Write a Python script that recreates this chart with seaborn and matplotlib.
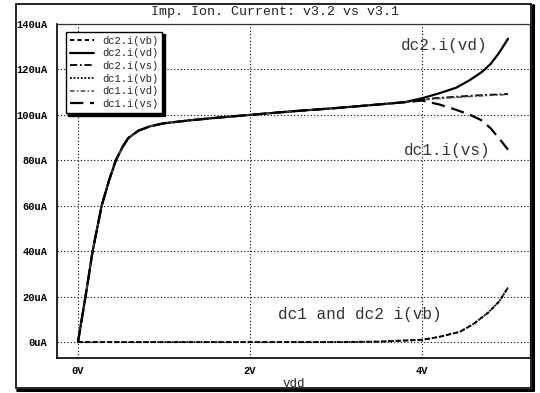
import numpy as np
import pandas as pd
import matplotlib
matplotlib.use("Agg")
import matplotlib.pyplot as plt
import seaborn as sns
from matplotlib.lines import Line2D
from matplotlib.patches import Rectangle

# ---------------- data (uA vs V) ----------------
vdd_main = [0, 0.1, 0.17, 0.275, 0.36, 0.44, 0.52, 0.585, 0.7, 0.84, 1.0, 1.3, 1.6,
            2.0, 2.5, 3.0, 3.5, 3.8, 4.0, 4.2, 4.4, 4.56, 4.7, 4.8, 4.9, 5.0]
dc2_vd = [0, 23, 40, 60, 71, 80, 86, 89.8, 93, 95, 96.3, 97.6, 98.7,
          100, 101.6, 103, 104.6, 105.6, 107.3, 109.5, 112, 115.4, 119, 122.5, 127.5, 133.5]
dc2_vs = [0, 23, 40, 60, 71, 80, 86, 89.8, 93, 95, 96.3, 97.6, 98.7,
          100, 101.6, 103, 104.6, 105.6, 106.8, 107.5, 108.0, 108.4, 108.7, 108.9, 109.0, 109.2]
dc1_vd = [0, 23, 40, 60, 71, 80, 86, 89.8, 93, 95, 96.3, 97.6, 98.7,
          100, 101.6, 103, 104.6, 105.6, 106.6, 107.2, 107.7, 108.1, 108.4, 108.6, 108.8, 109.0]
dc1_vs = [0, 23, 40, 60, 71, 80, 86, 89.8, 93, 95, 96.3, 97.6, 98.7,
          100, 101.6, 103, 104.6, 105.6, 106.3, 104.6, 102.2, 100, 97.5, 94, 89.5, 84.7]

vdd_b = [0, 1.0, 2.0, 3.0, 3.5, 3.74, 4.0, 4.2, 4.44, 4.6, 4.77, 4.9, 5.0]
dc2_vb = [0, 0, 0, 0, 0.2, 0.6, 1.0, 2.3, 4.5, 8.0, 13.0, 18.0, 24.0]
dc1_vb = [0, 0, 0, 0, 0.2, 0.6, 1.0, 2.3, 4.5, 8.0, 13.0, 18.0, 24.0]

series_names = ["dc2.i(vb)", "dc2.i(vd)", "dc2.i(vs)", "dc1.i(vb)", "dc1.i(vd)", "dc1.i(vs)"]
x_ticks = [0, 2, 4]
x_tick_labels = ["0V", "2V", "4V"]
y_ticks = [0, 20, 40, 60, 80, 100, 120, 140]
y_tick_labels = ["0uA", "20uA", "40uA", "60uA", "80uA", "100uA", "120uA", "140uA"]
title = "Imp. Ion. Current: v3.2 vs v3.1"

# ---------------- styling ----------------
sns.set_style("white")
plt.rcParams["font.family"] = ["Liberation Mono", "DejaVu Sans Mono"]

W, H = 540, 393
fig = plt.figure(figsize=(W / 100, H / 100), dpi=100)
L, R, T, B = 57, 530, 24, 358
ax = fig.add_axes([L / W, 1 - B / H, (R - L) / W, (B - T) / H])

data = {
    "dc2.i(vb)": (vdd_b, dc2_vb),
    "dc2.i(vd)": (vdd_main, dc2_vd),
    "dc2.i(vs)": (vdd_main, dc2_vs),
    "dc1.i(vb)": (vdd_b, dc1_vb),
    "dc1.i(vd)": (vdd_main, dc1_vd),
    "dc1.i(vs)": (vdd_main, dc1_vs),
}
styles = {
    "dc2.i(vb)": dict(ls=(0, (2.2, 1.6)), color="black", lw=1.4),
    "dc2.i(vd)": dict(ls="-", color="black", lw=1.6),
    "dc2.i(vs)": dict(ls=(0, (4, 1.5, 1, 1.5)), color="black", lw=1.3),
    "dc1.i(vb)": dict(ls=(0, (1, 1)), color="black", lw=1.3),
    "dc1.i(vd)": dict(ls=(0, (3, 1.5, 1, 1.5)), color="#444444", lw=1.1),
    "dc1.i(vs)": dict(ls=(0, (6, 3)), color="black", lw=1.6),
}

for name in series_names:
    xs, ys = data[name]
    df = pd.DataFrame({"vdd": xs, "I": ys})
    st = styles[name]
    sns.lineplot(data=df, x="vdd", y="I", ax=ax, color=st["color"],
                 linewidth=st["lw"], linestyle=st["ls"], label=name, zorder=3)

ax.set_xlim(-0.244, 5.256)
ax.set_ylim(-7, 140)

ax.set_xticks(x_ticks)
ax.set_xticklabels(x_tick_labels)
ax.set_yticks(y_ticks)
ax.set_yticklabels(y_tick_labels)
ax.set_xticks(np.arange(-0.2, 5.21, 0.2), minor=True)
ax.set_yticks(np.arange(-6, 140.1, 2), minor=True)

ax.tick_params(axis="x", which="major", direction="in", length=5, width=1,
               labelsize=7.5, pad=6, colors="black")
ax.tick_params(axis="x", which="minor", direction="in", length=3, width=1)
ax.tick_params(axis="y", which="major", direction="inout", length=8, width=1,
               labelsize=7.5, pad=3, colors="black")
ax.tick_params(axis="y", which="minor", direction="in", length=3, width=0.8)
for lab in ax.get_xticklabels() + ax.get_yticklabels():
    lab.set_fontweight("bold")

ax.grid(True, which="major", color="black", linestyle=(0, (1, 2)), linewidth=0.8)
ax.set_axisbelow(True)

for side in ["left", "bottom"]:
    ax.spines[side].set_color("black")
    ax.spines[side].set_linewidth(1.2)
for side in ["top", "right"]:
    ax.spines[side].set_color("#333333")
    ax.spines[side].set_linewidth(0.9)
    ax.spines[side].set_linestyle((0, (1, 1)))

ax.set_xlabel("vdd", fontsize=9, labelpad=1)
ax.set_ylabel("")

leg = ax.legend(loc="upper left", bbox_to_anchor=(0.018, 0.977), borderaxespad=0,
                frameon=True, fancybox=False, framealpha=1, edgecolor="black",
                fontsize=7.5, labelspacing=0.25, handlelength=2.3, handletextpad=0.8,
                borderpad=0.4, shadow={"color": "black", "alpha": 1})
leg.get_frame().set_linewidth(1.0)

# annotations
ax.text(4.26, 130.5, "dc2.i(vd)", fontsize=11.5, color="#333333", ha="center", va="center")
ax.text(4.29, 84.5, "dc1.i(vs)", fontsize=11.5, color="#333333", ha="center", va="center")
ax.text(3.28, 12.3, "dc1 and dc2 i(vb)", fontsize=11.5, color="#333333", ha="center", va="center")

# title
fig.text(275 / W, 1 - 12.5 / H, title, fontsize=9.5, ha="center", va="center", color="#222222")

# outer frame with shadowed right/bottom
fl, fr, ft, fb = 16, 531, 4, 388
fig.patches.append(Rectangle((fl / W, 1 - fb / H), (fr - fl) / W, (fb - ft) / H,
                             transform=fig.transFigure, fill=False,
                             edgecolor="black", linewidth=1.2, zorder=10))
fig.lines.append(Line2D([(fl + 1) / W, (fr + 1.5) / W], [1 - (fb + 1.5) / H] * 2,
                        transform=fig.transFigure, color="black", linewidth=2.2))
fig.lines.append(Line2D([(fr + 1.5) / W] * 2, [1 - (fb + 1.5) / H, 1 - (ft + 1) / H],
                        transform=fig.transFigure, color="black", linewidth=2.2))

fig.savefig("out.png", dpi=100)
